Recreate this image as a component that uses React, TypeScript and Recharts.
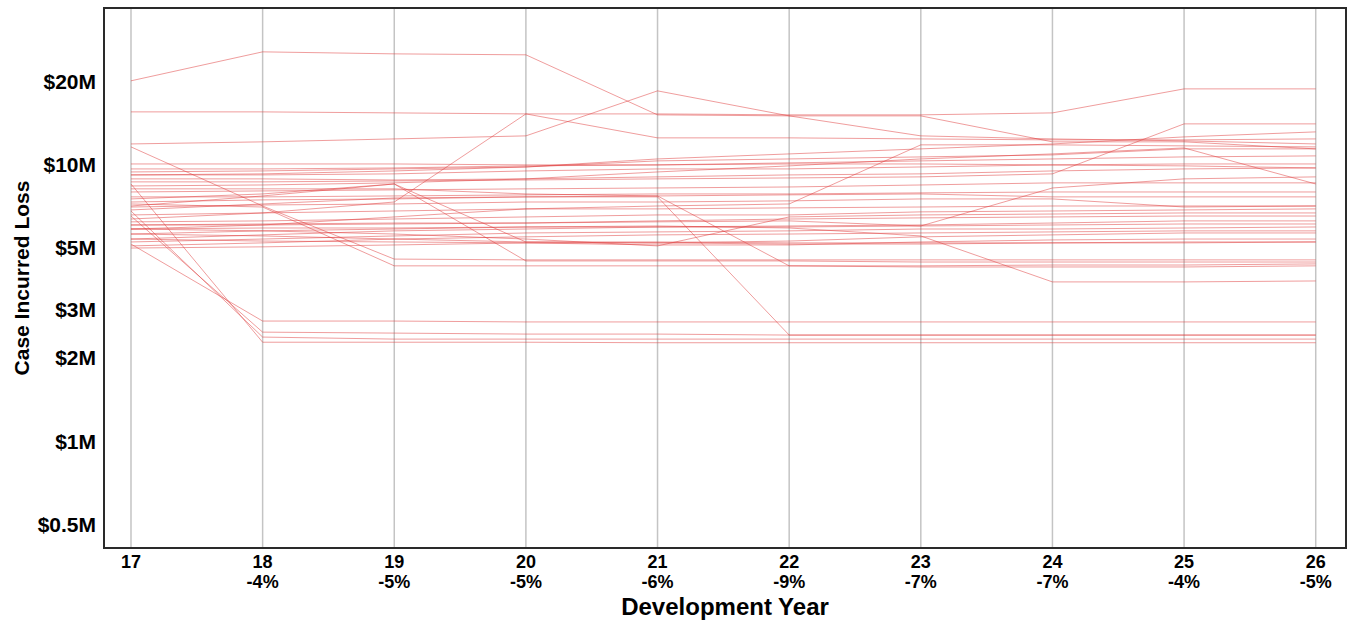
import React from 'react';
import { LineChart, Line, XAxis, YAxis, CartesianGrid, ReferenceArea, Label } from 'recharts';

// development years and the age-to-age change printed under each one
const years = [17, 18, 19, 20, 21, 22, 23, 24, 25, 26];
const changeLabels = ['', '-4%', '-5%', '-5%', '-6%', '-9%', '-7%', '-7%', '-4%', '-5%'];
const yTicks = [0.5, 1, 2, 3, 5, 10, 20];

// case incurred loss per claim, $M, one row per claim across development years 17..26
const claims: number[][] = [
  [20.16, 25.67, 25.24, 25.04, 15.18, 15.05, 15.05, 12.12, 12.12, 11.43],
  [15.56, 15.56, 15.43, 15.3, 15.3, 15.18, 15.18, 15.43, 18.85, 18.85],
  [11.91, 12.12, 12.42, 12.74, 18.54, 15.05, 12.74, 12.42, 12.22, 11.91],
  [11.62, 7.1, 4.56, 4.53, 4.53, 4.53, 4.53, 4.53, 4.53, 4.53],
  [7.22, 7.04, 4.31, 4.31, 4.31, 4.31, 4.31, 4.34, 4.34, 4.38],
  [10.08, 10.08, 10.08, 10.0, 10.0, 10.08, 10.08, 10.0, 9.92, 9.75],
  [9.43, 9.51, 9.67, 9.83, 10.34, 10.51, 10.69, 10.87, 11.43, 11.43],
  [9.2, 9.2, 9.28, 9.51, 9.67, 9.67, 9.83, 10.0, 10.08, 10.08],
  [7.53, 7.85, 8.53, 4.49, 4.49, 4.49, 4.45, 4.45, 4.45, 4.45],
  [7.1, 7.72, 8.53, 5.26, 5.26, 5.22, 5.22, 5.22, 5.22, 5.26],
  [8.19, 8.19, 8.19, 7.85, 7.72, 4.31, 4.27, 4.27, 4.27, 4.31],
  [6.87, 7.22, 7.59, 7.66, 7.66, 2.42, 2.42, 2.42, 2.42, 2.42],
  [6.37, 6.7, 7.34, 15.3, 12.53, 12.53, 12.42, 12.32, 12.32, 12.42],
  [5.86, 6.06, 6.48, 6.93, 7.1, 7.22, 11.82, 11.82, 11.72, 11.62],
  [5.62, 5.77, 5.86, 5.96, 6.01, 5.91, 5.53, 3.77, 3.77, 3.8],
  [8.68, 8.68, 8.75, 8.82, 8.9, 8.97, 9.05, 9.28, 14.08, 14.08],
  [6.06, 6.11, 6.16, 6.16, 6.22, 6.27, 6.01, 8.25, 8.9, 9.05],
  [8.39, 8.46, 8.61, 8.9, 9.43, 9.92, 10.51, 10.96, 11.52, 8.53],
  [8.9, 8.9, 8.82, 8.9, 9.05, 9.2, 9.28, 9.51, 9.67, 9.75],
  [7.98, 8.05, 8.12, 8.19, 8.25, 8.32, 8.46, 8.61, 8.61, 8.61],
  [9.2, 9.28, 9.51, 9.83, 10.51, 10.96, 11.43, 11.91, 12.63, 13.17],
  [7.34, 7.47, 7.53, 7.66, 7.72, 7.79, 7.85, 7.66, 7.66, 7.66],
  [7.04, 7.16, 7.22, 7.34, 7.34, 7.41, 7.53, 7.53, 7.04, 7.1],
  [6.59, 6.7, 6.81, 6.93, 6.93, 6.99, 7.04, 7.1, 7.1, 7.1],
  [6.22, 6.27, 6.37, 6.48, 6.59, 6.59, 6.76, 6.81, 6.87, 6.93],
  [6.06, 6.06, 6.11, 6.16, 6.27, 6.37, 6.43, 6.48, 6.53, 6.53],
  [5.86, 5.91, 5.91, 5.96, 5.96, 6.01, 6.06, 6.16, 6.27, 6.27],
  [5.39, 5.58, 5.77, 5.86, 5.96, 5.96, 6.01, 6.06, 6.11, 6.11],
  [5.26, 5.39, 5.53, 5.67, 5.72, 5.77, 5.86, 5.86, 5.91, 5.96],
  [5.09, 5.22, 5.39, 5.49, 5.58, 5.62, 5.67, 5.72, 5.77, 5.77],
  [5.0, 5.05, 5.13, 5.22, 5.22, 5.3, 5.49, 5.58, 5.67, 5.67],
  [5.39, 5.3, 5.26, 5.22, 5.13, 5.13, 5.26, 5.35, 5.39, 5.39],
  [5.62, 5.53, 5.39, 5.26, 5.22, 5.17, 5.17, 5.22, 5.26, 5.26],
  [8.53, 2.28, 2.28, 2.28, 2.27, 2.27, 2.27, 2.27, 2.27, 2.27],
  [6.81, 2.38, 2.34, 2.34, 2.34, 2.34, 2.34, 2.34, 2.34, 2.34],
  [6.53, 2.48, 2.46, 2.44, 2.44, 2.42, 2.42, 2.42, 2.42, 2.42],
  [5.17, 2.72, 2.72, 2.7, 2.7, 2.7, 2.7, 2.7, 2.7, 2.7],
  [5.86, 5.77, 5.62, 5.39, 5.09, 6.48, 6.59, 6.64, 6.7, 6.7],
  [7.66, 7.66, 7.72, 7.79, 7.85, 7.85, 7.92, 7.98, 7.98, 7.98],
  [9.67, 9.67, 9.75, 9.92, 10.0, 10.17, 10.34, 10.51, 10.69, 10.78],
];

const X_DOMAIN: [number, number] = [16.795, 26.23];
const Y_DOMAIN: [number, number] = [0.41, 37];
const FONT = '"Liberation Sans", Arial, sans-serif';

const rows = years.map((year, i) => {
  const row: Record<string, number> = { year };
  claims.forEach((c, k) => {
    row[`c${k}`] = c[i];
  });
  return row;
});

const fmtMoney = (v: number) => `$${v}M`;

function YearTick(props: any) {
  const { x, y, payload } = props;
  const idx = years.indexOf(payload.value);
  return (
    <g transform={`translate(${x},${y})`}>
      <text textAnchor="middle" y={12} fontSize={18} fontWeight="bold" fontFamily={FONT} fill="#000">
        {payload.value}
      </text>
      <text textAnchor="middle" y={32} fontSize={18} fontWeight="bold" fontFamily={FONT} fill="#000">
        {changeLabels[idx]}
      </text>
    </g>
  );
}

export default function App() {
  return (
    <div style={{ position: 'absolute', left: 0, top: 0 }}>
      <LineChart width={1351} height={620} data={rows} margin={{ top: 8, right: 5, left: 0, bottom: 0 }}>
        <CartesianGrid horizontal={false} stroke="#c4c4c4" strokeWidth={1.5} />
        <XAxis
          type="number"
          dataKey="year"
          domain={X_DOMAIN}
          ticks={years}
          interval={0}
          allowDataOverflow
          axisLine={false}
          tickLine={false}
          height={72}
          tick={<YearTick />}
        >
          <Label
            value="Development Year"
            position="insideBottom"
            offset={5}
            style={{ fontSize: 24, fontWeight: 'bold', fontFamily: FONT, fill: '#000' }}
          />
        </XAxis>
        <YAxis
          scale="log"
          domain={Y_DOMAIN}
          ticks={yTicks}
          allowDataOverflow
          axisLine={false}
          tickLine={false}
          width={104}
          tickFormatter={fmtMoney}
          tick={{ fontSize: 21, fontWeight: 'bold', fontFamily: FONT, fill: '#000' }}
        >
          <Label
            value="Case Incurred Loss"
            angle={-90}
            position="insideLeft"
            offset={22}
            style={{ textAnchor: 'middle', fontSize: 21, fontWeight: 'bold', fontFamily: FONT, fill: '#000' }}
          />
        </YAxis>
        <ReferenceArea
          x1={X_DOMAIN[0]}
          x2={X_DOMAIN[1]}
          y1={Y_DOMAIN[0]}
          y2={Y_DOMAIN[1]}
          fill="none"
          stroke="#2a2a2a"
          strokeWidth={2}
        />
        {claims.map((_, k) => (
          <Line
            key={k}
            type="linear"
            dataKey={`c${k}`}
            stroke="#e03c3c"
            strokeOpacity={0.5}
            strokeWidth={1}
            dot={false}
            activeDot={false}
            isAnimationActive={false}
          />
        ))}
      </LineChart>
    </div>
  );
}
